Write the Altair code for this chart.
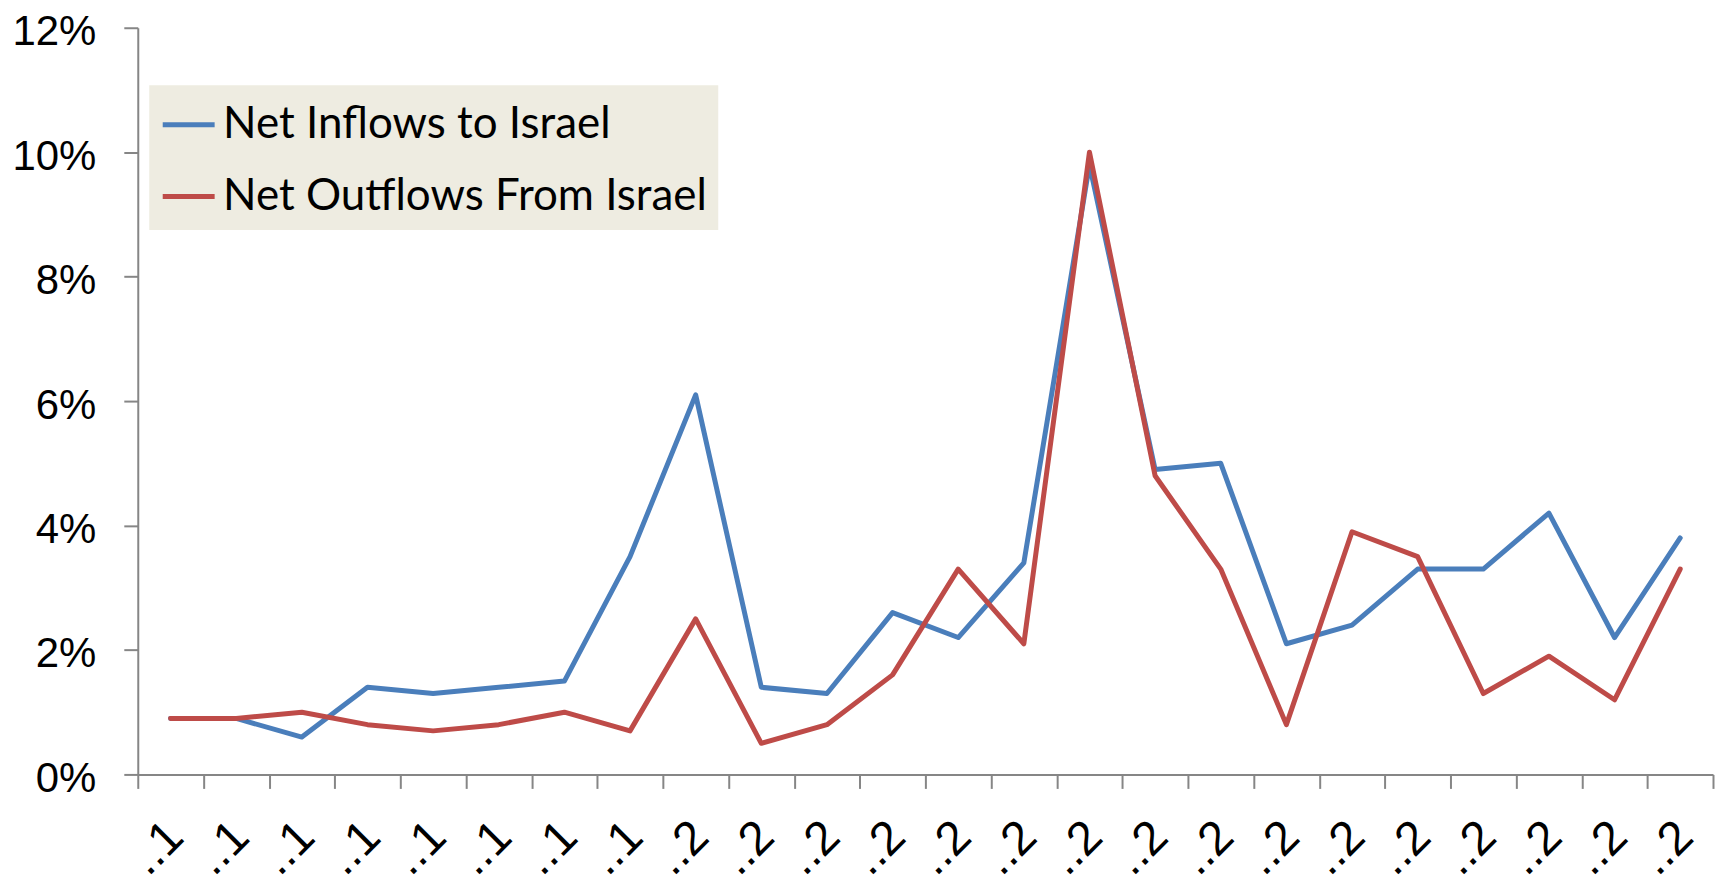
import altair as alt
import pandas as pd

# Category tick labels (as shown, truncated)
x_labels = ["..1", "..1", "..1", "..1", "..1", "..1", "..1", "..1",
            "..2", "..2", "..2", "..2", "..2", "..2", "..2", "..2",
            "..2", "..2", "..2", "..2", "..2", "..2", "..2", "..2"]

# Series values (percent)
inflows = [0.9, 0.9, 0.6, 1.4, 1.3, 1.4, 1.5, 3.5, 6.1, 1.4, 1.3, 2.6,
           2.2, 3.4, 9.8, 4.9, 5.0, 2.1, 2.4, 3.3, 3.3, 4.2, 2.2, 3.8]
outflows = [0.9, 0.9, 1.0, 0.8, 0.7, 0.8, 1.0, 0.7, 2.5, 0.5, 0.8, 1.6,
            3.3, 2.1, 10.0, 4.8, 3.3, 0.8, 3.9, 3.5, 1.3, 1.9, 1.2, 3.3]

series_names = ["Net Inflows to Israel", "Net Outflows From Israel"]
series_colors = ["#4A7EBB", "#BE4B48"]
y_ticks = [0, 0.02, 0.04, 0.06, 0.08, 0.10, 0.12]

rows = []
for name, vals in zip(series_names, [inflows, outflows]):
    for i, v in enumerate(vals):
        rows.append({"idx": i, "series": name, "value": v / 100.0})
df = pd.DataFrame(rows)

label_array = "[" + ",".join("'" + l + "'" for l in x_labels) + "]"
axis_gray = "#868686"

chart = alt.Chart(df).mark_line(
    strokeWidth=5, strokeJoin="round", strokeCap="round"
).encode(
    x=alt.X(
        "idx:O",
        scale=alt.Scale(type="band", paddingInner=0, paddingOuter=0),
        bandPosition=0.5,
        axis=alt.Axis(
            title=None,
            tickBand="extent",
            labelAngle=-45,
            labelExpr=label_array + "[datum.value]",
            labelFont="Liberation Sans",
            labelFontSize=48,
            labelColor="black",
            labelPadding=24,
            labelOffset=-12,
            domainColor=axis_gray,
            tickColor=axis_gray,
            domainWidth=2,
            tickWidth=2,
            tickSize=14,
        ),
    ),
    y=alt.Y(
        "value:Q",
        scale=alt.Scale(domain=[0, 0.12], nice=False),
        axis=alt.Axis(
            title=None,
            values=y_ticks,
            format=".0%",
            grid=False,
            labelFont="Liberation Sans",
            labelFontSize=42,
            labelColor="black",
            labelPadding=28,
            labelOffset=4,
            domainColor=axis_gray,
            tickColor=axis_gray,
            domainWidth=2,
            tickWidth=2,
            tickSize=14,
        ),
    ),
    color=alt.Color(
        "series:N",
        scale=alt.Scale(domain=series_names, range=series_colors),
        legend=alt.Legend(
            title=None,
            orient="none",
            legendX=11.5,
            legendY=57.6,
            fillColor="#EEECE1",
            padding=11,
            symbolType="stroke",
            symbolSize=2704,
            symbolStrokeWidth=5,
            labelFont="Lato",
            labelFontSize=44,
            labelColor="black",
            labelOffset=6,
            labelLimit=0,
            rowPadding=21,
        ),
    ),
    order=alt.Order("idx:Q"),
).properties(
    width=1578,
    height=748,
    padding={"left": 130, "top": 19, "right": 2, "bottom": 110},
    autosize=alt.AutoSizeParams(type="none"),
).configure_view(stroke=None)

chart.save("out.html", embed_options={"renderer": "svg", "actions": False})
